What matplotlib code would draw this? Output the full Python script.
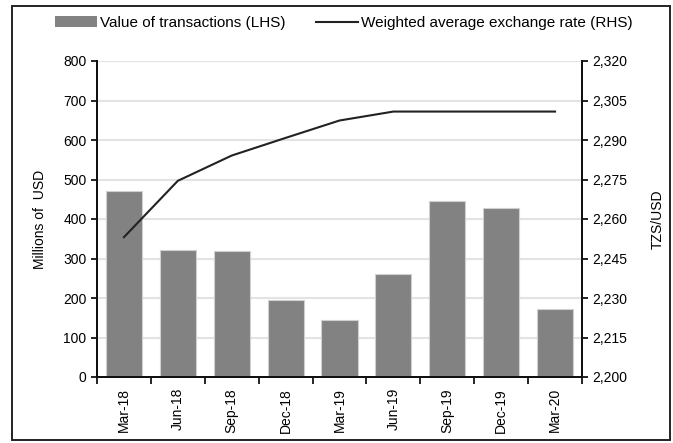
import matplotlib
matplotlib.use("Agg")
import matplotlib.pyplot as plt
from matplotlib.patches import Rectangle, Patch
from matplotlib.lines import Line2D
from matplotlib.ticker import FuncFormatter, FixedLocator

plt.rcParams['font.family'] = ['Liberation Sans', 'DejaVu Sans']
plt.rcParams['font.size'] = 10

categories = ["Mar-18", "Jun-18", "Sep-18", "Dec-18", "Mar-19", "Jun-19", "Sep-19", "Dec-19", "Mar-20"]
transactions = [470, 321, 318, 195, 145, 261, 445, 427, 172]
exchange_rate = [2253.1, 2274.5, 2284.1, 2290.8, 2297.4, 2300.8, 2300.8, 2300.8, 2300.8]
left_ticks = [0, 100, 200, 300, 400, 500, 600, 700, 800]
right_ticks = [2200, 2215, 2230, 2245, 2260, 2275, 2290, 2305, 2320]

fig = plt.figure(figsize=(6.73, 4.43), dpi=100)
ax = fig.add_axes([97/673, 1 - 377/443, (582-97)/673, (377-61)/443])
ax2 = ax.twinx()

x = list(range(len(categories)))
ax.set_axisbelow(True)
for t in left_ticks[1:]:
    ax.axhline(t, color="#e3e3e3", lw=1.5, zorder=0)
ax.bar(x, transactions, width=0.67, color="#828282", edgecolor="#d0d0d0", linewidth=0.8, zorder=2)
ax.set_ylim(0, 800)
ax.set_xlim(-0.5, 8.5)
ax.set_yticks(left_ticks)
ax.set_ylabel("Millions of  USD", labelpad=12)

ax.set_xticks(x)
ax.set_xticklabels(categories, rotation=90)
ax.tick_params(axis="x", which="major", length=0, pad=8)
ax.xaxis.set_minor_locator(FixedLocator([i - 0.5 for i in range(len(categories) + 1)]))
ax.tick_params(axis="x", which="minor", length=5, width=1.2, direction="out")
ax.tick_params(axis="y", length=4, width=1.2, direction="out")

ax2.plot(x, exchange_rate, color="#222222", lw=1.5, zorder=3)
ax2.set_ylim(2200, 2320)
ax2.set_yticks(right_ticks)
ax2.yaxis.set_major_formatter(FuncFormatter(lambda v, p: f"{int(v):,}"))
ax2.tick_params(axis="y", length=4, width=1.2, direction="out")
ax2.set_ylabel("TZS/USD", labelpad=17)

for a in (ax, ax2):
    a.spines["top"].set_visible(False)
    for s in ("left", "right", "bottom"):
        a.spines[s].set_linewidth(1.4)
        a.spines[s].set_color("#111111")

handles = [Patch(facecolor="#828282", edgecolor="none"),
           Line2D([0], [0], color="#222222", lw=1.5)]
fig.legend(handles, ["Value of transactions (LHS)", "Weighted average exchange rate (RHS)"],
           loc="center", bbox_to_anchor=(0.5 + 7/673, 1 - 23/443), ncol=2, frameon=False,
           prop={"size": 11}, handlelength=2.8, handletextpad=0.15, columnspacing=2.0)

fig.patches.append(Rectangle((12/673, 1 - 440/443), (670-12)/673, (440-6)/443,
                             transform=fig.transFigure, fill=False, edgecolor="#222222", lw=1.4))

fig.savefig("out.png", dpi=100)
